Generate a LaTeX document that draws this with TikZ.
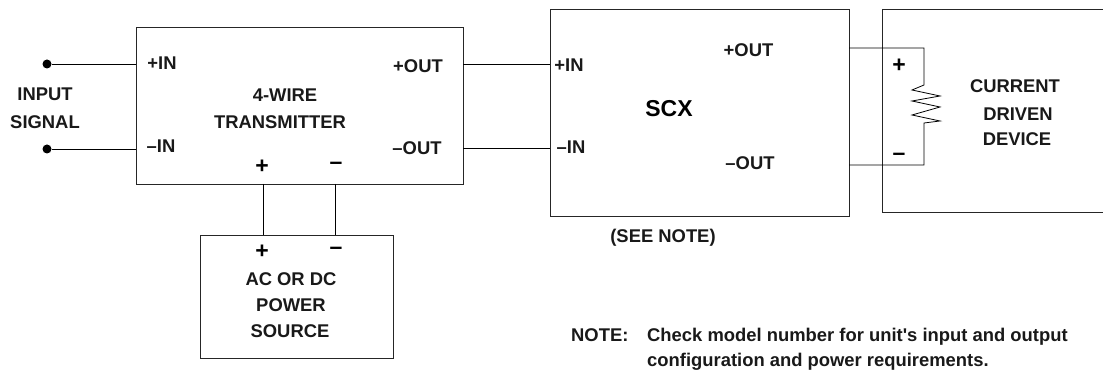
\documentclass[tikz,border=0pt]{standalone}
\usepackage{fontspec}
\setmainfont{Liberation Sans}[Ligatures=TeXOff]
\tikzset{
  wire/.style={draw=black,line width=0.8pt},
  boxx/.style={draw=black!85,line width=0.9pt,fill=white},
  lab/.style={font=\fontsize{18.4}{26}\bfseries\selectfont,inner sep=0pt,anchor=base,text=black!90},
  leftlab/.style={lab,anchor=base west},
  sgn/.style={font=\fontsize{23}{23}\bfseries\selectfont,inner sep=0pt},
  dotn/.style={circle,fill=black,inner sep=0pt,minimum size=9pt}
}
\begin{document}
\begin{tikzpicture}[x=1pt,y=-1pt]
\useasboundingbox (0,0) rectangle (1103,371);
\draw[boxx] (136,27) rectangle (463,184);
\draw[boxx] (550,9) rectangle (849,216);
\draw[boxx] (882,9) -- (1103,9) (882,9) -- (882,212) -- (1103,212);
\draw[boxx] (200,235) rectangle (393,358);
\coordinate (tp) at (136,64); \coordinate (tm) at (136,149);
\coordinate (top) at (463,64); \coordinate (tom) at (463,148);
\coordinate (sip) at (550,64); \coordinate (sim) at (550,148);
\coordinate (sop) at (849,48); \coordinate (som) at (849,165);
\coordinate (rp) at (924,48); \coordinate (rm) at (924,165);
\node[dotn] (d1) at (47,64) {};
\node[dotn] (d2) at (47,149) {};
\draw[wire] (d1) -- (tp);
\draw[wire] (d2) -- (tm);
\draw[wire] (top) -- (sip);
\draw[wire] (tom) -- (sim);
\draw[wire] (sop) -- (rp) -- (924,85) -- (912,90) -- (940,96) -- (912,101) -- (940,107) -- (912,115) -- (940,121) -- (924,123) -- (rm) -- (som);
\coordinate (a1) at (263,184); \coordinate (a2) at (263,235);
\coordinate (b1) at (335,184); \coordinate (b2) at (335,235);
\draw[wire] (a1) -- (a2);
\draw[wire] (b1) -- (b2);
\node[lab] (n1a) at (45,100.6) {INPUT};
\node[lab] (n1b) at (45,128.6) {SIGNAL};
\node[lab] (n2) at (162,69.6) {+IN};
\node[lab] (n3) at (161,152.6) {–IN};
\node[lab] (n4a) at (285,101.6) {4-WIRE};
\node[lab] (n4b) at (280,128.6) {TRANSMITTER};
\node[lab] (n5) at (418,72.6) {+OUT};
\node[lab] (n6) at (417,154.6) {–OUT};
\node[sgn] (n7) at (262,167) {+};
\node[sgn] (n8) at (336,166) {–};
\node[sgn] (n9) at (262,252) {+};
\node[sgn] (n10) at (336,251) {–};
\node[lab] (n11a) at (291,285.6) {AC OR DC};
\node[lab] (n11b) at (291,311.6) {POWER};
\node[lab] (n11c) at (290,337.6) {SOURCE};
\node[lab] (n12) at (569,71.6) {+IN};
\node[lab] (n13) at (571,153.6) {–IN};
\node[lab] (n14) at (748.5,56.6) {+OUT};
\node[lab] (n15) at (750,169.6) {–OUT};
\node[font=\fontsize{23}{23}\bfseries\selectfont,inner sep=0pt] (n16) at (669,109) {SCX};
\node[lab] (n17) at (663,242.6) {(SEE NOTE)};
\node[sgn] (n18) at (899,66) {+};
\node[sgn] (n19) at (899,157) {–};
\node[lab] (n20a) at (1015,92.6) {CURRENT};
\node[lab] (n20b) at (1018,120.6) {DRIVEN};
\node[lab] (n20c) at (1017,145.6) {DEVICE};
\node[leftlab] (n21) at (571,341.6) {NOTE:};
\node[leftlab] (n22) at (647,341.6) {Check model number for unit's input and output};
\node[leftlab] (n23) at (647,366.6) {configuration and power requirements.};
\end{tikzpicture}
\end{document}
